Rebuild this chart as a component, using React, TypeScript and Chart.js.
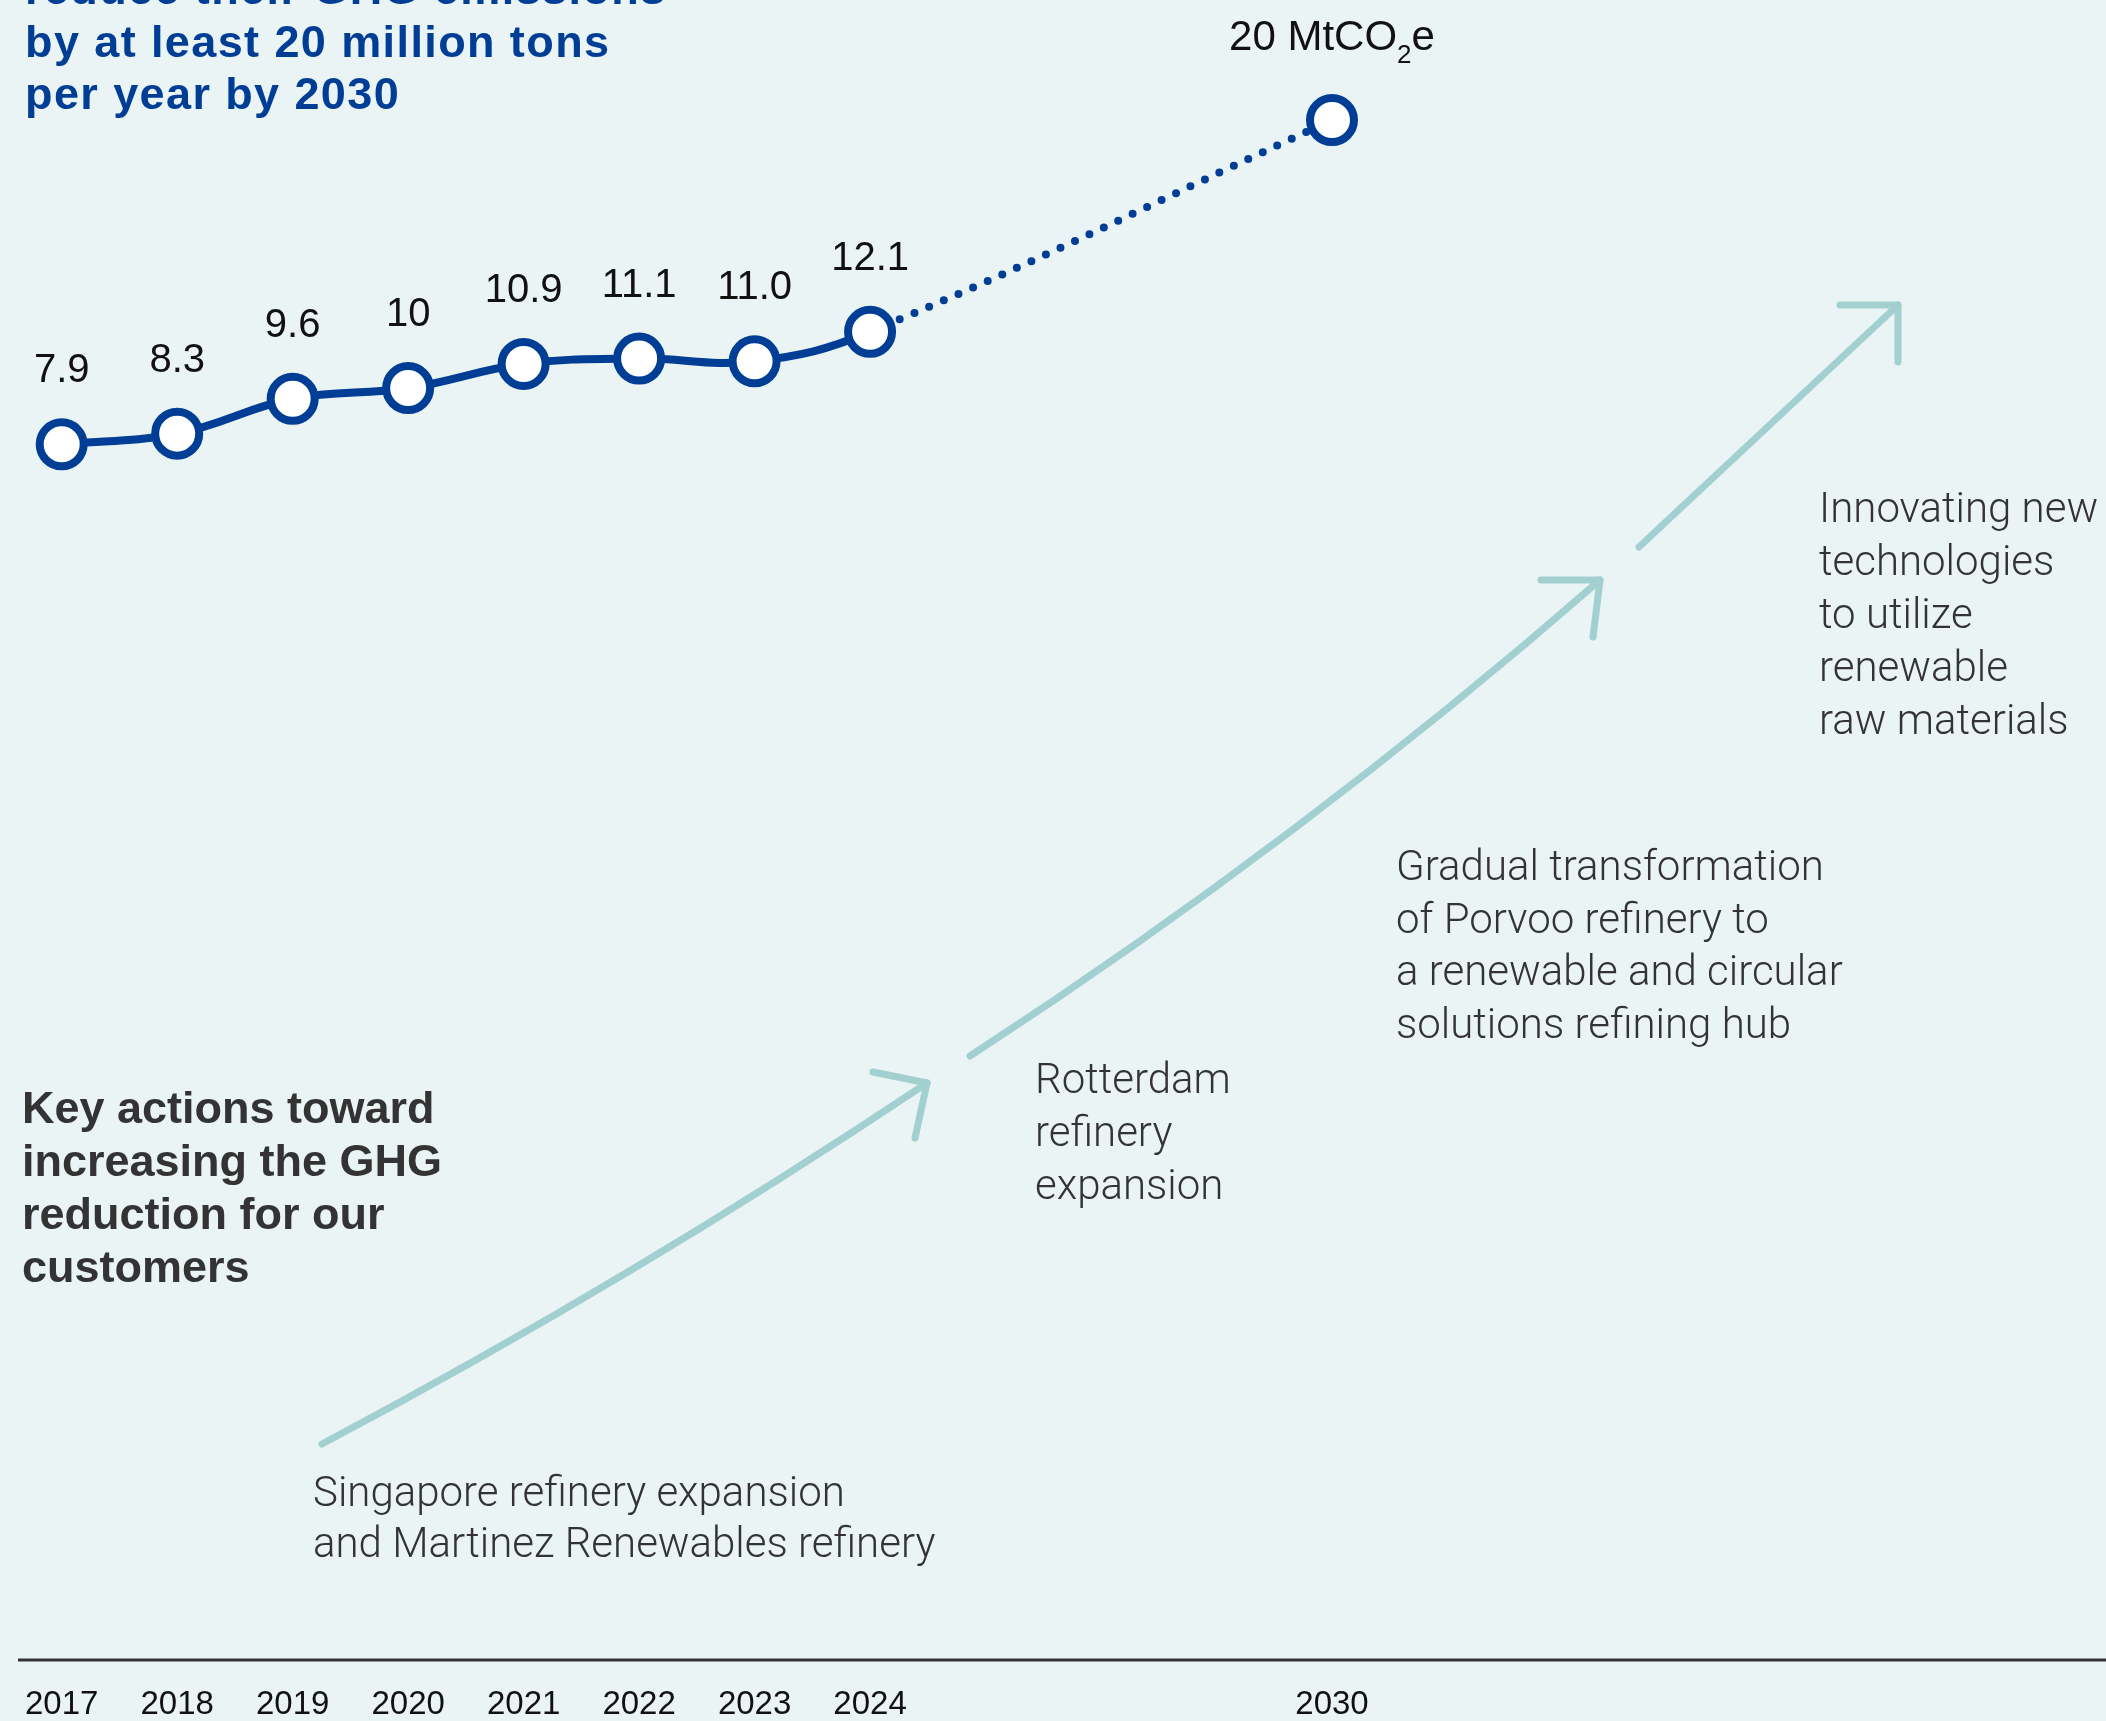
import React, { useEffect, useRef } from 'react';
import { Chart, registerables } from 'chart.js';

Chart.register(...registerables);

const W = 2106;
const H = 1721;

// ---- data ----
const years = ['2017', '2018', '2019', '2020', '2021', '2022', '2023', '2024', '', '', '', '2030'];
const reductionHistory = [7.9, 8.3, 9.6, 10, 10.9, 11.1, 11.0, 12.1];
const reductionTarget = 20;
const targetYear = '2030';
const valueLabels = ['7.9', '8.3', '9.6', '10', '10.9', '11.1', '11.0', '12.1'];
const targetLabelMain = '20 MtCO';
const targetLabelSub = '2';
const targetLabelTail = 'e';

const titleLines = ['reduce their GHG emissions', 'by at least 20 million tons', 'per year by 2030'];
const keyActionLines = ['Key actions toward', 'increasing the GHG', 'reduction for our', 'customers'];
const actionSingapore = ['Singapore refinery expansion', 'and Martinez Renewables refinery'];
const actionRotterdam = ['Rotterdam', 'refinery', 'expansion'];
const actionPorvoo = ['Gradual transformation', 'of Porvoo refinery to', 'a renewable and circular', 'solutions refining hub'];
const actionInnovation = ['Innovating new', 'technologies', 'to utilize', 'renewable', 'raw materials'];

const series = years.map((y, i) =>
  i < reductionHistory.length ? reductionHistory[i] : y === targetYear ? reductionTarget : null
);

// ---- styles ----
const BLUE = '#003E96';
const TEAL = '#A2D0D0';
const BG = '#EAF4F5';
const DARK = '#333333';
const SANS = '"Liberation Sans", Arial, Helvetica, sans-serif';
const LIGHT = 'Roboto, "Open Sans", sans-serif';

function drawLines(ctx: CanvasRenderingContext2D, lines: string[], x: number, y0: number, lh: number, font: string, color: string, spacing = '0px') {
  ctx.save();
  ctx.font = font;
  ctx.fillStyle = color;
  ctx.textAlign = 'left';
  ctx.textBaseline = 'alphabetic';
  (ctx as any).letterSpacing = spacing;
  lines.forEach((l, i) => ctx.fillText(l, x, y0 + i * lh));
  ctx.restore();
}

function arrow(ctx: CanvasRenderingContext2D, sx: number, sy: number, tx: number, ty: number, bend: number, a1: [number, number], a2: [number, number]) {
  ctx.save();
  ctx.strokeStyle = TEAL;
  ctx.lineWidth = 7;
  ctx.lineCap = 'round';
  ctx.lineJoin = 'round';
  const mx = (sx + tx) / 2;
  const my = (sy + ty) / 2;
  const dx = tx - sx;
  const dy = ty - sy;
  const len = Math.hypot(dx, dy);
  // normal pointing to the lower-right side of the chord
  let nx = -dy / len;
  let ny = dx / len;
  if (ny < 0) {
    nx = -nx;
    ny = -ny;
  }
  const cx = mx + nx * bend;
  const cy = my + ny * bend;
  ctx.beginPath();
  ctx.moveTo(sx, sy);
  ctx.quadraticCurveTo(cx, cy, tx, ty);
  ctx.stroke();
  ctx.beginPath();
  ctx.moveTo(tx + a1[0], ty + a1[1]);
  ctx.lineTo(tx, ty);
  ctx.lineTo(tx + a2[0], ty + a2[1]);
  ctx.stroke();
  ctx.restore();
}

const decorPlugin = {
  id: 'decor',
  beforeDatasetsDraw(chart: any) {
    const ctx: CanvasRenderingContext2D = chart.ctx;
    const area = chart.chartArea;
    // arrows
    arrow(ctx, 322, 1444, 927, 1083, 18, [-54, -11], [-12, 55]);
    arrow(ctx, 970, 1056, 1600, 580, 28, [-59, 0], [-7, 57]);
    arrow(ctx, 1639, 547, 1898, 305, 0, [-58, 0], [0, 57]);

    // headings
    drawLines(ctx, titleLines, 25, 4, 52.5, `bold 45px ${SANS}`, BLUE, '1.4px');
    drawLines(ctx, keyActionLines, 22, 1123, 53, `bold 45px ${SANS}`, DARK);

    // action annotations
    const lf = `300 42px ${LIGHT}`;
    drawLines(ctx, actionSingapore, 313, 1506, 51, lf, DARK);
    drawLines(ctx, actionRotterdam, 1035, 1093, 53, lf, DARK);
    drawLines(ctx, actionPorvoo, 1396, 880, 52.7, lf, DARK);
    drawLines(ctx, actionInnovation, 1819, 522, 53, lf, DARK);

    // timeline axis line
    ctx.save();
    ctx.strokeStyle = '#333333';
    ctx.lineWidth = 3;
    ctx.beginPath();
    ctx.moveTo(18, area.bottom);
    ctx.lineTo(chart.width, area.bottom);
    ctx.stroke();
    ctx.restore();
  },
  afterDatasetsDraw(chart: any) {
    const ctx: CanvasRenderingContext2D = chart.ctx;
    const meta = chart.getDatasetMeta(0);
    ctx.save();
    ctx.fillStyle = '#111111';
    ctx.textAlign = 'center';
    ctx.textBaseline = 'alphabetic';
    ctx.font = `40px ${SANS}`;
    valueLabels.forEach((lab, i) => {
      const pt = meta.data[i];
      ctx.fillText(lab, pt.x, pt.y - 62);
    });
    // target label with subscript
    const ti = years.indexOf(targetYear);
    const tp = meta.data[ti];
    const mainFont = `42px ${SANS}`;
    const subFont = `26px ${SANS}`;
    ctx.font = mainFont;
    const w1 = ctx.measureText(targetLabelMain).width;
    const w3 = ctx.measureText(targetLabelTail).width;
    ctx.font = subFont;
    const w2 = ctx.measureText(targetLabelSub).width;
    const total = w1 + w2 + w3;
    let x = tp.x - total / 2;
    const by = tp.y - 70;
    ctx.textAlign = 'left';
    ctx.font = mainFont;
    ctx.fillText(targetLabelMain, x, by);
    x += w1;
    ctx.font = subFont;
    ctx.fillText(targetLabelSub, x, by + 13);
    x += w2;
    ctx.font = mainFont;
    ctx.fillText(targetLabelTail, x, by);
    ctx.restore();
  },
};

export default function App() {
  const ref = useRef<HTMLCanvasElement | null>(null);

  useEffect(() => {
    document.body.style.margin = '0';
    const canvas = ref.current;
    if (!canvas) return;
    const chart = new Chart(canvas, {
      type: 'line',
      data: {
        labels: years,
        datasets: [
          {
            data: series as any,
            spanGaps: true,
            tension: 0.4,
            borderColor: BLUE,
            borderWidth: 8,
            borderCapStyle: 'round',
            borderJoinStyle: 'round',
            pointRadius: 22,
            pointHoverRadius: 22,
            pointBorderWidth: 8,
            pointHoverBorderWidth: 8,
            pointBackgroundColor: '#ffffff',
            pointBorderColor: BLUE,
            fill: false,
            clip: false,
            segment: {
              borderDash: (c: any) => (c.p1DataIndex > reductionHistory.length - 1 ? [0, 16] : undefined),
            },
          } as any,
        ],
      },
      options: {
        animation: false,
        responsive: false,
        devicePixelRatio: 1,
        events: [],
        layout: { autoPadding: false, padding: { left: 61, right: 774, top: 0, bottom: 0 } },
        plugins: { legend: { display: false }, tooltip: { enabled: false } },
        scales: {
          x: {
            type: 'category',
            offset: false,
            grid: { display: false, drawTicks: false },
            border: { display: false },
            ticks: {
              autoSkip: false,
              maxRotation: 0,
              minRotation: 0,
              padding: 25,
              color: '#111111',
              font: { family: SANS, size: 33 },
            },
            afterFit: (s: any) => {
              s.height = 61;
            },
          },
          y: { display: false, min: -37.46, max: 24.48 },
        },
      },
      plugins: [decorPlugin],
    });
    return () => chart.destroy();
  }, []);

  return (
    <div style={{ position: 'fixed', left: 0, top: 0, width: W, height: H, background: BG, overflow: 'hidden' }}>
      <canvas ref={ref} width={W} height={H} style={{ display: 'block', width: W, height: H }} />
    </div>
  );
}
